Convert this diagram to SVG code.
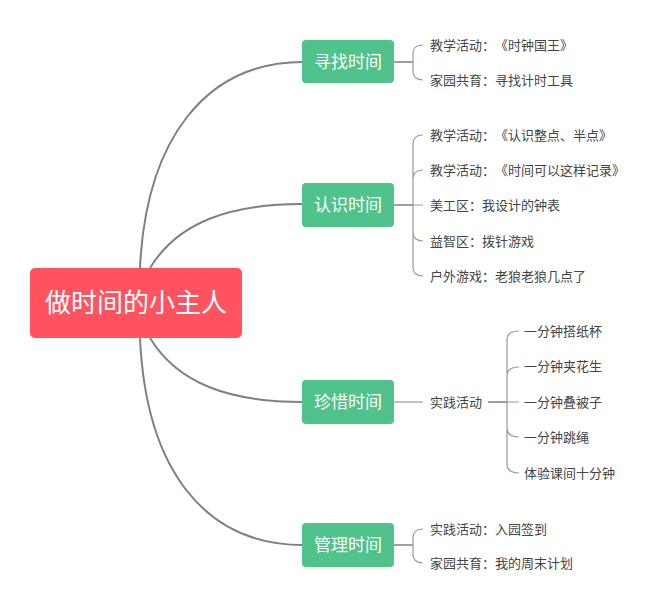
<svg xmlns="http://www.w3.org/2000/svg" width="660" height="607" viewBox="0 0 660 607">
<style>
text{font-family:"Noto Sans CJK SC","Noto Sans",sans-serif;text-spacing-trim:space-all}
.root{fill:#FF545F}
.br{fill:#4FC38B}
.rt{fill:#fff;font-size:26px}
.bt{fill:#fff;font-size:17px}
.ct{fill:#444;font-size:13px}
.main{fill:none;stroke:#808080;stroke-width:2}
.stub{fill:none;stroke:#888;stroke-width:1.6}
.sub{fill:none;stroke:#999;stroke-width:1.2}
</style>
<rect width="660" height="607" fill="#fff"/>
<g id="connectors">
<path class="main" d="M140,268 C146,140 205,62 303,62"/>
<path class="main" d="M150,268 C178,222 230,204 303,204"/>
<path class="main" d="M150,338 C178,384 230,402 303,402"/>
<path class="main" d="M140,338 C146,470 205,545 303,545"/>
<path class="stub" d="M394,62 H413"/>
<path class="sub" d="M413,62 V53 Q413,45 423,45 M413,62 V71 Q413,80 423,80"/>
<path class="stub" d="M394,205 H413"/>
<path class="sub" d="M413,205 V144 Q413,135 423,135 M413,205 V179 Q413,170 423,170 M413,205 H423 M413,205 V232 Q413,241 423,241 M413,205 V267 Q413,276 423,276"/>
<path class="sub" d="M394,402 H423"/>
<path class="stub" d="M488,402 H507"/>
<path class="sub" d="M507,402 V340 Q507,331 519,331 M507,402 V376 Q507,367 519,367 M507,402 H519 M507,402 V428 Q507,437 519,437 M507,402 V464 Q507,473 519,473"/>
<path class="stub" d="M394,545 H413"/>
<path class="sub" d="M413,545 V538 Q413,529 423,529 M413,545 V554 Q413,563 423,563"/>
</g>
<g id="root">
<rect class="root" x="30" y="268" width="212" height="70" rx="5"/>
<text class="rt" x="136" y="312" text-anchor="middle">做时间的小主人</text>
</g>
<g id="b1">
<rect class="br" x="302" y="40" width="92" height="43" rx="4"/>
<text class="bt" x="348" y="67.5" text-anchor="middle">寻找时间</text>
</g>
<g id="b2">
<rect class="br" x="302" y="183" width="92" height="44" rx="4"/>
<text class="bt" x="348" y="211" text-anchor="middle">认识时间</text>
</g>
<g id="b3">
<rect class="br" x="302" y="380" width="92" height="44" rx="4"/>
<text class="bt" x="348" y="408" text-anchor="middle">珍惜时间</text>
</g>
<g id="b4">
<rect class="br" x="302" y="523" width="92" height="44" rx="4"/>
<text class="bt" x="348" y="551" text-anchor="middle">管理时间</text>
</g>
<g id="c1a"><text class="ct" x="430" y="49.5">教学活动：《时钟国王》</text></g>
<g id="c1b"><text class="ct" x="430" y="84.5">家园共育：寻找计时工具</text></g>
<g id="c2a"><text class="ct" x="430" y="139.5">教学活动：《认识整点、半点》</text></g>
<g id="c2b"><text class="ct" x="430" y="174.5">教学活动：《时间可以这样记录》</text></g>
<g id="c2c"><text class="ct" x="430" y="209.5">美工区：我设计的钟表</text></g>
<g id="c2d"><text class="ct" x="430" y="245.5">益智区：拨针游戏</text></g>
<g id="c2e"><text class="ct" x="430" y="280.5">户外游戏：老狼老狼几点了</text></g>
<g id="c3"><text class="ct" x="430" y="406.5">实践活动</text></g>
<g id="c3a"><text class="ct" x="524" y="335.5">一分钟搭纸杯</text></g>
<g id="c3b"><text class="ct" x="524" y="371">一分钟夹花生</text></g>
<g id="c3c"><text class="ct" x="524" y="406.5">一分钟叠被子</text></g>
<g id="c3d"><text class="ct" x="524" y="442">一分钟跳绳</text></g>
<g id="c3e"><text class="ct" x="524" y="477.5">体验课间十分钟</text></g>
<g id="c4a"><text class="ct" x="430" y="533.5">实践活动：入园签到</text></g>
<g id="c4b"><text class="ct" x="430" y="567.5">家园共育：我的周末计划</text></g>
</svg>
